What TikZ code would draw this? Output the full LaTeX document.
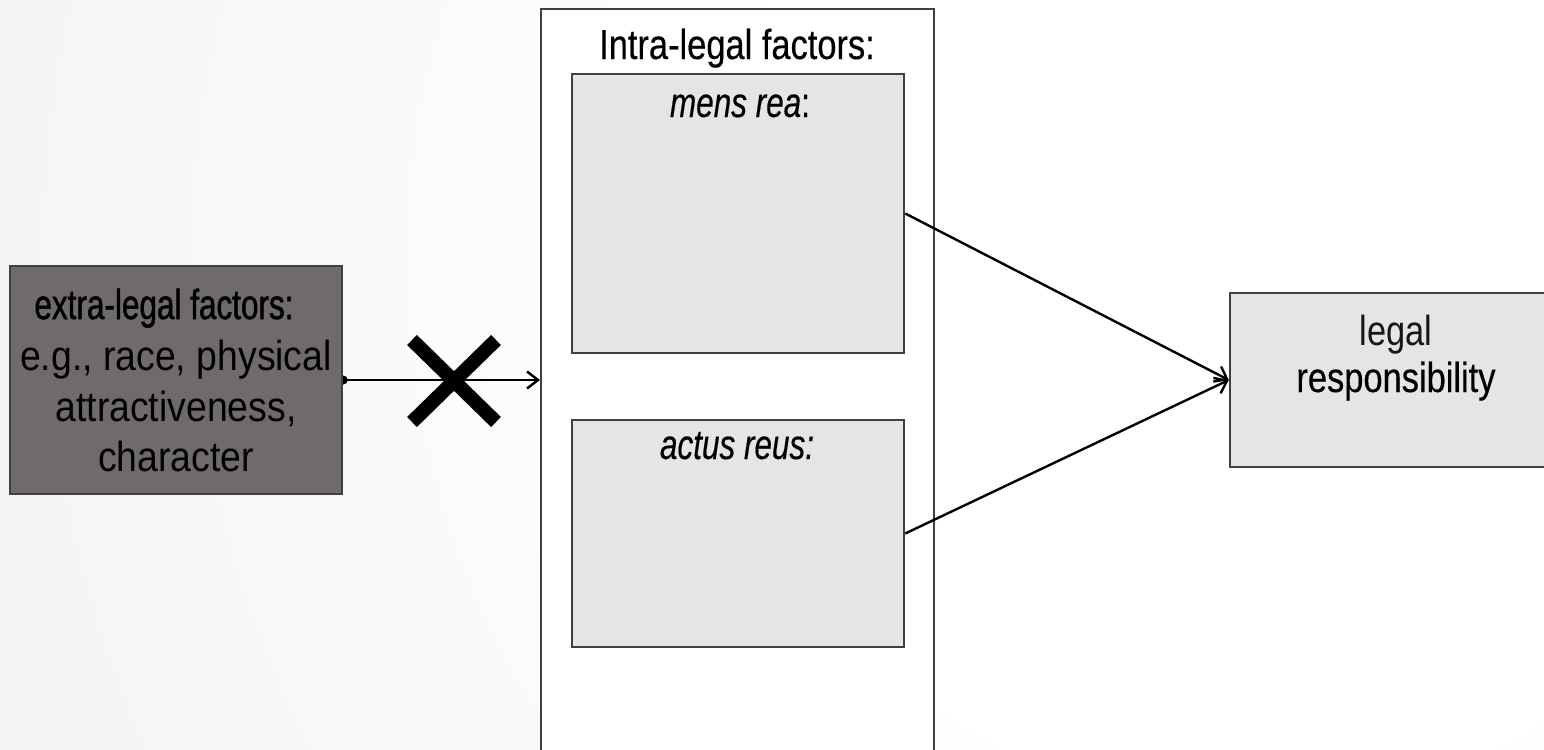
\documentclass[tikz,border=0pt]{standalone}
\usepackage{fontspec}
\setmainfont{Liberation Sans}[FakeStretch=0.82, FakeBold=0.35]
\newfontfamily\narrowfont{Liberation Sans}[FakeStretch=0.75, FakeBold=0.35]
\newfontfamily\titlefont{Liberation Sans}[FakeStretch=0.75, FakeBold=1.2]
\newfontfamily\widefont{Liberation Sans}[FakeStretch=0.89]
\newfontfamily\lightfont{Liberation Sans}[FakeStretch=0.82]
\usetikzlibrary{arrows.meta,fit}
\pgfdeclarelayer{bg}
\pgfsetlayers{bg,main}
\definecolor{edge}{HTML}{404040}
\definecolor{darkfill}{HTML}{6F6B6A}
\definecolor{lightfill}{HTML}{E5E5E5}
\definecolor{bggray}{HTML}{E2E2E2}
\definecolor{bgmid}{HTML}{F1F1F1}
\definecolor{softtext}{HTML}{161616}
\pgfdeclareradialshading{bgshade}{\pgfpointorigin}{color(0bp)=(white); color(8bp)=(white); color(24bp)=(bgmid); color(39bp)=(bggray); color(50bp)=(bggray)}
\begin{document}
\begin{tikzpicture}[x=0.5pt,y=-0.5pt,
  boxline/.style={draw=edge, line width=1.25pt, inner sep=0pt},
  darkbox/.style={boxline, fill=darkfill},
  lightbox/.style={boxline, fill=lightfill},
  holder/.style={draw=edge, line width=1pt, inner sep=0pt, fill=white},
  txt/.style={inner sep=0pt, font=\fontsize{21}{24}\selectfont},
  narrowtxt/.style={inner sep=0pt, font=\fontsize{21}{24}\selectfont\narrowfont},
  titletxt/.style={inner sep=0pt, font=\fontsize{21}{24}\selectfont\titlefont},
  widetxt/.style={inner sep=0pt, font=\fontsize{21}{24}\selectfont\widefont, text=black},
  lighttxt/.style={inner sep=0pt, font=\fontsize{21}{24}\selectfont\lightfont, text=softtext},
  conn/.style={line width=1.2pt, -{Straight Barb[length=5.5pt,width=8.5pt]}},
  cross/.style={line width=7pt, black}]
\useasboundingbox (0,0) rectangle (1544,750);
% boxes
\coordinate (e1) at (10,266);   \coordinate (e2) at (342,494);
\coordinate (c1) at (541,9);    \coordinate (c2) at (934,780);
\coordinate (m1) at (572,74);   \coordinate (m2) at (904,353);
\coordinate (a1) at (572,420);  \coordinate (a2) at (904,647);
\coordinate (r1) at (1230,293); \coordinate (r2) at (1562,467);
\node[darkbox, fit=(e1)(e2)] (extra) {};
\node[holder, fit=(c1)(c2)] (intra) {};
\node[lightbox, fit=(m1)(m2)] (mens) {};
\node[lightbox, fit=(a1)(a2)] (actus) {};
\node[lightbox, fit=(r1)(r2)] (resp) {};
% texts
\node[titletxt, anchor=base] (extraT1) at (164,319) {extra-legal factors:};
\node[widetxt, anchor=base] (extraT2) at (176,370) {e.g., race, physical};
\node[widetxt, anchor=base] (extraT3) at (176,421) {attractiveness,};
\node[widetxt, anchor=base] (extraT4) at (176,471) {character};
\node[txt, anchor=base] (intraT) at (737,59) {Intra-legal factors:};
\node[narrowtxt, anchor=base] (mensT) at (740,117) {\itshape mens rea\upshape:};
\node[narrowtxt, anchor=base] (actusT) at (737,459) {\itshape actus reus:};
\node[lighttxt, anchor=base] (respT1) at (1396,345) {legal};
\node[txt, anchor=base] (respT2) at (1396,392) {responsibility};
% connectors
\draw[conn] (extra.east) -- (intra.west |- extra.east);
\draw[conn] (mens.east) -- (resp.west);
\draw[conn] (actus.east) -- (resp.west);
% cross
\coordinate (x1) at (412,340); \coordinate (x2) at (496,422);
\coordinate (x3) at (412,422); \coordinate (x4) at (496,340);
\draw[cross] (x1) -- (x2);
\draw[cross] (x3) -- (x4);
\begin{pgfonlayer}{bg}
  \begin{scope}
    \clip (0,0) rectangle (1544,750);
    \shade[shading=bgshade] (1250,260) circle (1600);
  \end{scope}
  \fill (extra.east) circle (4.5);
  \fill (mens.east) circle (4.5);
  \fill (actus.east) circle (4.5);
\end{pgfonlayer}
\end{tikzpicture}
\end{document}
